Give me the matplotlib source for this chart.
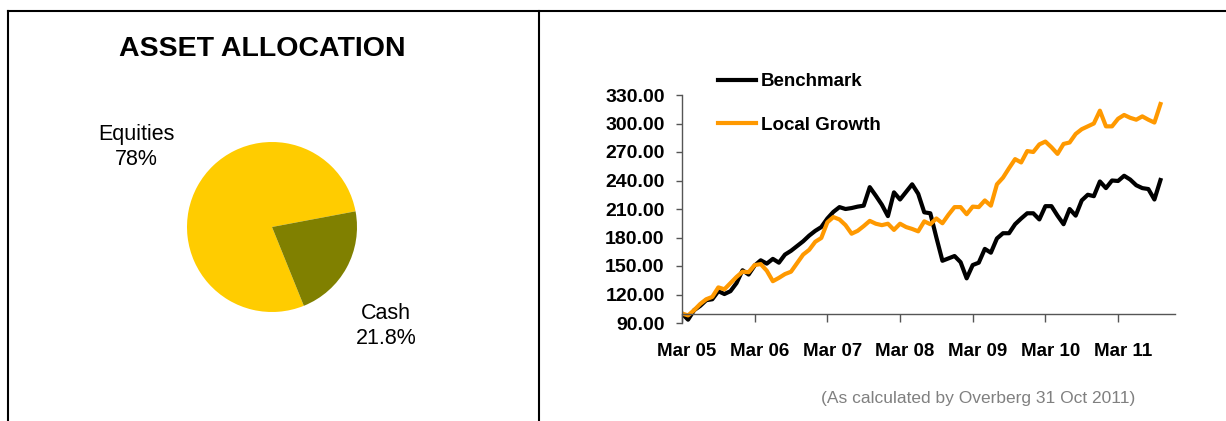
import matplotlib
matplotlib.use("Agg")
import matplotlib.pyplot as plt
from matplotlib.lines import Line2D
from matplotlib.transforms import ScaledTranslation
import numpy as np

plt.rcParams['font.family'] = ['Liberation Sans', 'DejaVu Sans']

# asset allocation
alloc_names = ['Equities', 'Cash']
alloc_pct = [78, 21.8]
alloc_colors = ['#FFCC00', '#808000']

# monthly values, Mar 2005 .. Oct 2011
benchmark = [100, 93.5, 103.5, 108, 114, 115, 123.5, 120.5, 123.5, 132,
             145.5, 141, 150.5, 156, 152.5, 157.5, 153.5, 162, 166, 171,
             176, 182, 187, 191, 200, 207, 212, 210, 211, 212.5,
             213.5, 233, 224, 214.5, 202.5, 227.5, 220, 228, 236, 226,
             206.5, 205.5, 180, 155.5, 158, 160.5, 154, 137, 151, 153.5,
             168, 164, 179, 184.5, 184.5, 194, 200, 205.5, 205.5, 199,
             213, 213, 203, 194, 210, 203, 219, 225, 223.5, 239,
             232, 240, 239.5, 245, 241, 235, 232, 231, 220, 240.5]
local_growth = [100, 98, 103.5, 110, 115, 117.5, 127.5, 125.5, 132, 138.5,
                144, 143.5, 151, 152, 145, 134, 137.5, 141.5, 144, 153,
                162, 167, 175.5, 179.5, 196, 201.5, 199, 193, 184, 187,
                192, 197.5, 194.5, 193, 194.5, 188, 194.5, 191, 189, 186.5,
                197, 194, 200, 195, 204, 212, 212, 204.5, 212.5, 212,
                219, 213.5, 236, 243, 253, 262.5, 259, 271, 270, 278,
                281, 275, 268, 278.5, 280, 289, 294, 297, 300, 313.5,
                297, 297, 305, 309, 306, 304, 307.5, 304, 301, 320.5]
year_labels = ['Mar 05', 'Mar 06', 'Mar 07', 'Mar 08', 'Mar 09', 'Mar 10', 'Mar 11']
y_ticks = [90, 120, 150, 180, 210, 240, 270, 300, 330]

W, H = 1226, 421
fig = plt.figure(figsize=(W / 100, H / 100), dpi=100)


def fx(px):
    return px / W


def fy(py):
    return 1 - py / H


# frame lines
for xs, ys in [((8, W), (11, 11)), ((8, 8), (11, H)), ((539, 539), (11, H))]:
    fig.add_artist(Line2D([fx(x) for x in xs], [fy(y) for y in ys], color='black', lw=1.5))

fig.text(fx(262), fy(49), 'ASSET ALLOCATION', ha='center', va='center',
         fontsize=20.5, fontweight='bold')

# pie
axp = fig.add_axes([fx(187), fy(312), 170 / W, 170 / H])
axp.pie(alloc_pct, colors=alloc_colors, startangle=-68, counterclock=False,
        wedgeprops=dict(linewidth=0))
axp.set_xlim(-1, 1)
axp.set_ylim(-1, 1)
axp.set_axis_off()

fig.text(fx(136), fy(147), f'{alloc_names[0]}\n{alloc_pct[0]:g}%', ha='center', va='center',
         fontsize=15.5, linespacing=1.25)
fig.text(fx(386), fy(326), f'{alloc_names[1]}\n{alloc_pct[1]:g}%', ha='center', va='center',
         fontsize=15.5, linespacing=1.25)

# line chart
ax = fig.add_axes([fx(682), fy(323), (1175 - 682) / W, (323 - 95) / H])
ax.spines['top'].set_visible(False)
ax.spines['right'].set_visible(False)
ax.spines['bottom'].set_position(('data', 100))
for s in ['left', 'bottom']:
    ax.spines[s].set_color('#555555')
    ax.spines[s].set_linewidth(1)

months = np.arange(len(benchmark))
ax.plot(months, benchmark, color='black', lw=3, label='Benchmark')
ax.plot(months, local_growth, color='#FF9900', lw=3, label='Local Growth')
ax.set_xlim(0, 81.4)
ax.set_ylim(90, 330)
ax.set_yticks(y_ticks)
ax.set_yticklabels([f'{v:.2f}' for v in y_ticks], fontsize=14, fontweight='bold')
ax.set_xticks(np.arange(0, 12 * len(year_labels), 12))
ax.set_xticklabels(year_labels, fontsize=13.5, fontweight='bold')
ax.tick_params(axis='y', direction='out', length=4.5, width=1, color='#555555', pad=8)
ax.tick_params(axis='x', direction='out', length=6, width=1, color='#555555', pad=15)
shift = ScaledTranslation(5 / 100, 0, fig.dpi_scale_trans)
for lab in ax.get_xticklabels():
    lab.set_transform(lab.get_transform() + shift)
ax.patch.set_alpha(0)

fig.legend(loc='upper left', bbox_to_anchor=(fx(718), fy(73)), bbox_transform=fig.transFigure,
           frameon=False, prop={'weight': 'bold', 'size': 13.5}, handlelength=2.0,
           handletextpad=0.3, labelspacing=1.4, borderpad=0, borderaxespad=0)

fig.text(fx(978), fy(398), '(As calculated by Overberg 31 Oct 2011)', color='#808080',
         fontsize=12.5, ha='center', va='center')

fig.savefig('out.png', dpi=100)
